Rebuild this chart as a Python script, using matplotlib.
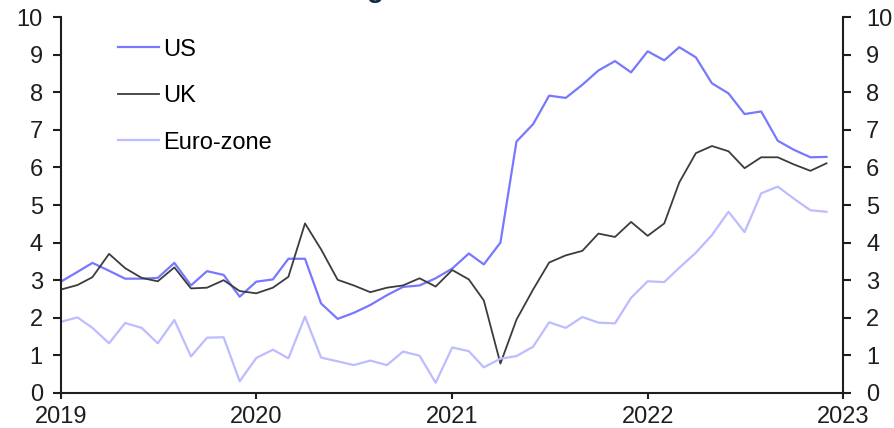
import numpy as np
import pandas as pd
import matplotlib
matplotlib.use("Agg")
import matplotlib.pyplot as plt
import matplotlib.dates as mdates

plt.rcParams['font.family'] = ['Liberation Sans', 'DejaVu Sans']

months = pd.date_range("2019-01-01", "2022-12-01", freq="MS")

us = [2.96, 3.22, 3.46, 3.25, 3.04, 3.04, 3.06, 3.46, 2.86, 3.24, 3.14, 2.56,
      2.96, 3.02, 3.57, 3.57, 2.38, 1.97, 2.13, 2.34, 2.60, 2.82, 2.86, 3.05,
      3.31, 3.71, 3.42, 4.00, 6.69, 7.15, 7.91, 7.85, 8.20, 8.58, 8.83, 8.53,
      9.09, 8.85, 9.20, 8.93, 8.24, 7.97, 7.42, 7.49, 6.71, 6.47, 6.27, 6.28]

uk = [2.75, 2.87, 3.08, 3.70, 3.32, 3.06, 2.97, 3.34, 2.78, 2.80, 3.00, 2.71,
      2.65, 2.80, 3.09, 4.51, 3.82, 3.01, 2.86, 2.68, 2.80, 2.86, 3.05, 2.83,
      3.27, 3.02, 2.46, 0.78, 1.95, 2.75, 3.47, 3.66, 3.78, 4.24, 4.15, 4.55,
      4.18, 4.51, 5.60, 6.38, 6.57, 6.43, 5.98, 6.27, 6.27, 6.08, 5.91, 6.11]

ez = [1.89, 2.01, 1.73, 1.32, 1.86, 1.73, 1.32, 1.94, 0.97, 1.47, 1.48, 0.31,
      0.93, 1.15, 0.92, 2.03, 0.94, 0.84, 0.74, 0.86, 0.74, 1.10, 0.99, 0.27,
      1.21, 1.11, 0.68, 0.91, 0.98, 1.23, 1.88, 1.73, 2.02, 1.87, 1.85, 2.53,
      2.97, 2.95, 3.33, 3.73, 4.20, 4.82, 4.28, 5.31, 5.49, 5.17, 4.86, 4.82]

series = [("US", us, "#7878ff", 1.6),
          ("UK", uk, "#3c3c3c", 1.3),
          ("Euro-zone", ez, "#bcbcff", 1.6)]

fs = 17
ink = "#1e1e1e"

fig = plt.figure(figsize=(8.95, 4.28), dpi=100)
ax = fig.add_axes([0.068, 0.082, 0.874, 0.878])

for name, vals, col, lw in series:
    ax.plot(months, vals, color=col, lw=lw, label=name)

ax.set_xlim(pd.Timestamp("2019-01-01"), pd.Timestamp("2023-01-01"))
ax.set_ylim(0, 10)
ax.set_yticks(range(0, 11))
ax.xaxis.set_major_locator(mdates.YearLocator())
ax.xaxis.set_major_formatter(mdates.DateFormatter("%Y"))

ax.spines["top"].set_visible(False)
ax.spines["right"].set_visible(False)
for s in ["left", "bottom"]:
    ax.spines[s].set_linewidth(1.5)
    ax.spines[s].set_color(ink)
ax.tick_params(axis="both", direction="out", length=5.5, width=1.5,
               labelsize=fs, colors=ink)
ax.tick_params(axis="y", pad=7.5)
ax.tick_params(axis="x", length=4.5, pad=5)

# same scale repeated on the right
ax2 = ax.twinx()
ax2.set_ylim(0, 10)
ax2.set_yticks(range(0, 11))
for s in ["top", "left", "bottom"]:
    ax2.spines[s].set_visible(False)
ax2.spines["right"].set_linewidth(1.5)
ax2.spines["right"].set_color(ink)
ax2.tick_params(axis="y", direction="out", length=5.5, width=1.5,
                labelsize=fs, colors=ink, pad=11)

ax.legend(loc="upper left", bbox_to_anchor=(0.061, 0.968), frameon=False,
          fontsize=fs, handlelength=1.74, handletextpad=0.15,
          labelspacing=1.04, borderaxespad=0)

# clipped heading above the plot
fig.text(0.419, 1.006, "g", fontsize=20, fontweight="bold", color="#0e2a47",
         ha="center", va="baseline")

fig.savefig("out.png", dpi=100)
